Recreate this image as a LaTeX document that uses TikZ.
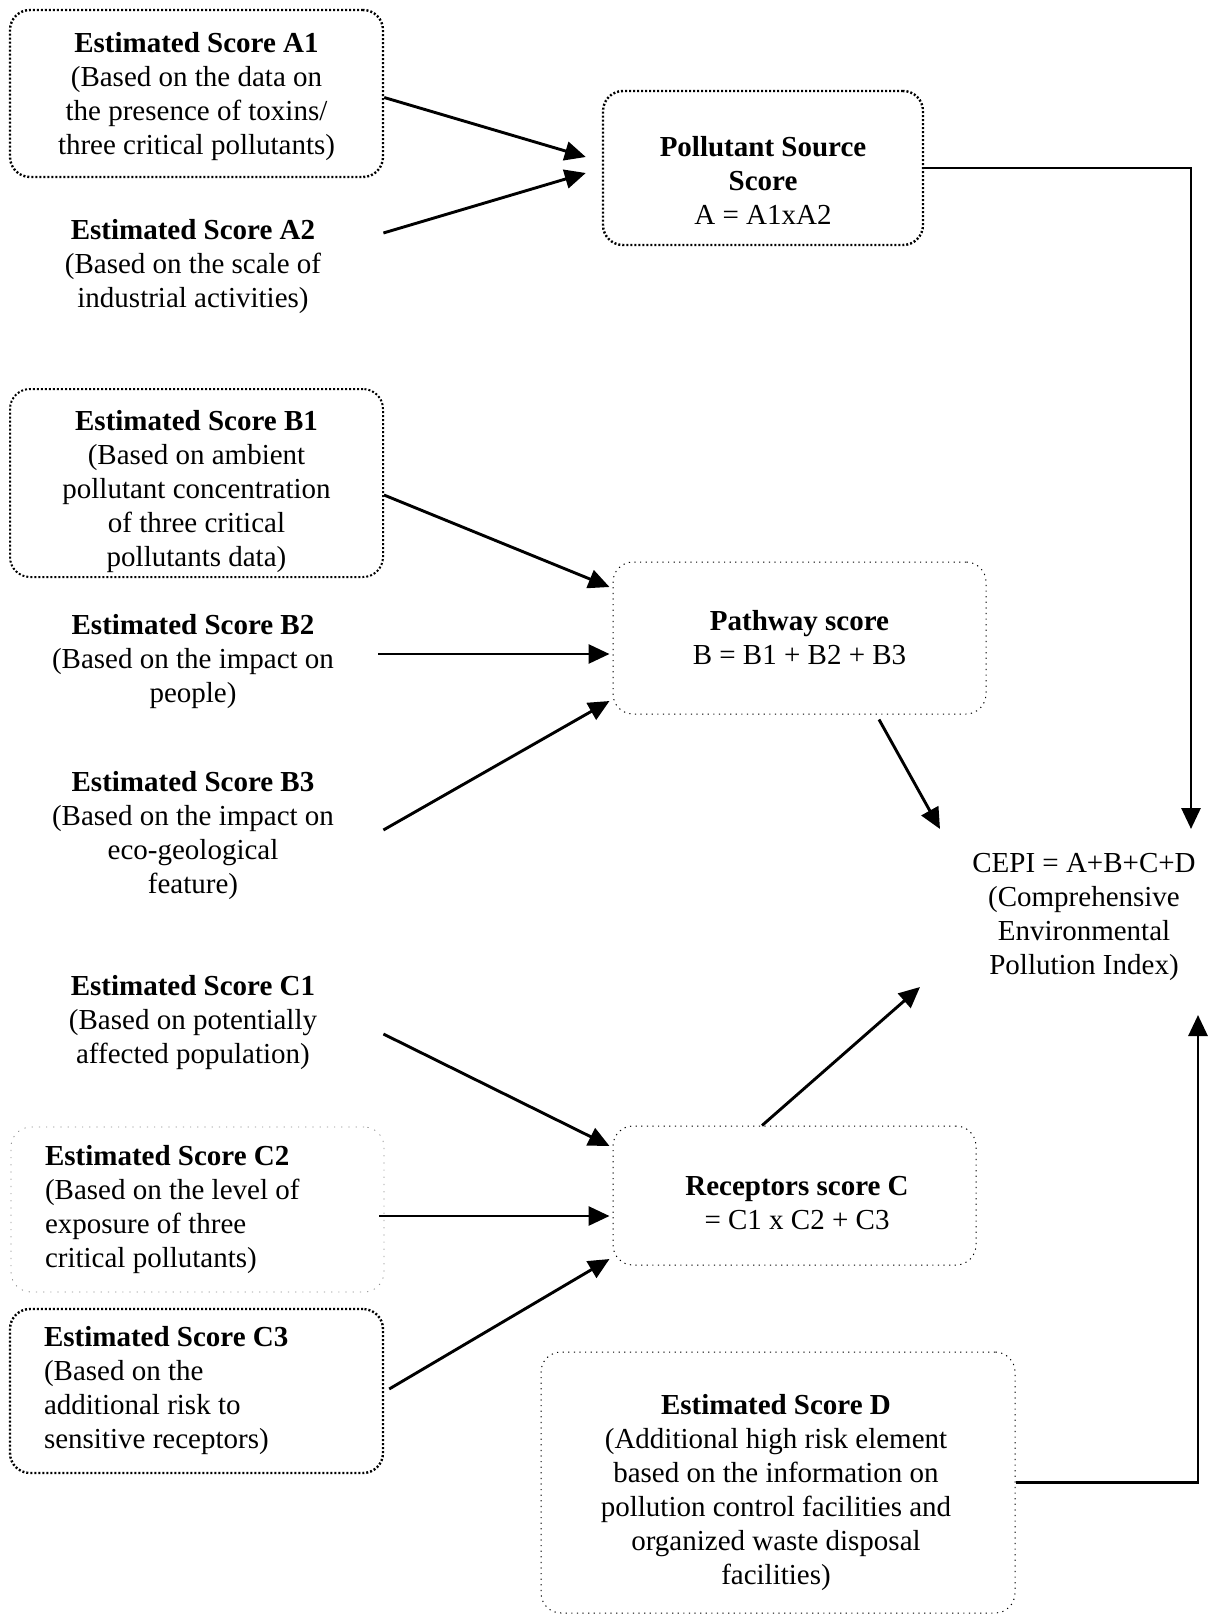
\documentclass[tikz,border=0pt]{standalone}
\usepackage{fontspec}
\setmainfont{Liberation Serif}
\usetikzlibrary{arrows.meta}

\tikzset{
    txt/.style = {align=center, inner sep=0, minimum width=190pt, font=\fontsize{14.5}{17}\selectfont},
    heavybox/.style = {draw, rounded corners=10pt, line width=1.2pt, dash pattern=on 1pt off 1pt, align=center, font=\fontsize{14.5}{17}\selectfont},
    lightbox/.style = {draw, rounded corners=10pt, line width=0.5pt, dash pattern=on 0.6pt off 2.2pt, align=center, font=\fontsize{14.5}{17}\selectfont},
    faintbox/.style = {draw=black!45, rounded corners=10pt, line width=0.4pt, dash pattern=on 0.6pt off 3pt, align=flush left, font=\fontsize{14.5}{17}\selectfont},
    arr/.style = {line width=1.45pt, -{Triangle[length=10.5pt, width=9.5pt]}}
}

\begin{document}
\begin{tikzpicture}[x=0.5pt, y=-0.5pt]
    \useasboundingbox (0,0) rectangle (1220,1616);

    \node[heavybox, minimum width=186.5pt, minimum height=83.5pt] (a1) at (196.5,93.5) {};
    \node[txt] (a1txt) at (196.5,97)
        {\textbf{Estimated Score A1}\\(Based on the data on\\the presence of toxins/\\three critical pollutants)};
    \node[txt] (a2) at (193,267)
        {\textbf{Estimated Score A2}\\(Based on the scale of\\industrial activities)};
    \node[heavybox, minimum width=160pt, minimum height=77pt] (src) at (763,168) {};
    \node[txt, minimum width=0pt] (srctxt) at (763,180)
        {\textbf{Pollutant Source}\\\textbf{Score}\\A = A1xA2};

    \node[heavybox, line width=1pt, minimum width=186.5pt, minimum height=94pt] (b1) at (196.5,483) {};
    \node[txt] (b1txt) at (196.5,492)
        {\textbf{Estimated Score B1}\\(Based on ambient\\pollutant concentration\\of three critical\\pollutants data)};
    \node[txt] (b2) at (193,662)
        {\textbf{Estimated Score B2}\\(Based on the impact on\\people)};
    \node[txt] (b3) at (193,836)
        {\textbf{Estimated Score B3}\\(Based on the impact on\\eco-geological\\feature)};
    \node[lightbox, minimum width=186.5pt, minimum height=76pt] (pw) at (799.5,638)
        {\textbf{Pathway score}\\B = B1 + B2 + B3};

    \node[txt, minimum width=0pt] (cepi) at (1084,917)
        {CEPI = A+B+C+D\\(Comprehensive\\Environmental\\Pollution Index)};

    \node[txt] (c1) at (193,1023)
        {\textbf{Estimated Score C1}\\(Based on potentially\\affected population)};
    \node[faintbox, text width=152.5pt, inner xsep=17pt, minimum height=82.5pt] (c2) at (197.5,1209.5)
        {\textbf{Estimated Score C2}\\(Based on the level of\\exposure of three\\critical pollutants)};
    \node[heavybox, align=flush left, text width=152.5pt, inner xsep=17pt, minimum height=82pt] (c3) at (196.5,1391)
        {\textbf{Estimated Score C3}\\(Based on the\\additional risk to\\sensitive receptors)};
    \node[lightbox, minimum width=181.5pt, minimum height=69.5pt] (rc) at (794.5,1195.5) {};
    \node[txt, minimum width=0pt] (rctxt) at (797,1203)
        {\textbf{Receptors score C}\\= C1 x C2 + C3};

    \node[lightbox, minimum width=237pt, minimum height=130.5pt] (dsc) at (778,1482.5) {};
    \node[txt, minimum width=0pt] (dtxt) at (776,1493)
        {\textbf{Estimated Score D}\\(Additional high risk element\\based on the information on\\pollution control facilities and\\organized waste disposal\\facilities)};

    \draw[arr] ([yshift=-2pt]a1.east) -- ([xshift=-8pt,yshift=5.5pt]src.west);
    \draw[arr] ([yshift=17pt]a2.east) -- ([xshift=-8pt,yshift=-2.5pt]src.west);
    \draw[arr] (src.east) -| ([xshift=53.5pt,yshift=44pt]cepi.center);

    \draw[arr] ([yshift=-6pt]b1.east) -- ([xshift=-1.5pt,yshift=25.5pt]pw.west);
    \draw[arr] ([xshift=-2.5pt,yshift=4pt]b2.east) -- ([xshift=-1.5pt,yshift=-8pt]pw.west);
    \draw[arr] ([yshift=3pt]b3.east) -- ([xshift=-1.5pt,yshift=-31.5pt]pw.west);
    \draw[arr] ([xshift=39.75pt,yshift=-2.5pt]pw.south) -- ([xshift=-72pt,yshift=44pt]cepi.center);

    \draw[arr] ([yshift=-5.5pt]c1.east) -- ([xshift=-1.5pt,yshift=24.75pt]rc.west);
    \draw[arr] ([xshift=-2.5pt,yshift=-3.25pt]c2.east) -- ([xshift=-1.5pt,yshift=-10.25pt]rc.west);
    \draw[arr] ([xshift=2.5pt,yshift=1pt]c3.east) -- ([xshift=-1.5pt,yshift=-31.75pt]rc.west);
    \draw[arr] ([xshift=-16.25pt]rc.north) -- ([xshift=-82pt,yshift=-35pt]cepi.center);

    \draw[arr] (dsc.east) -| ([xshift=57pt,yshift=-49pt]cepi.center);
\end{tikzpicture}
\end{document}
